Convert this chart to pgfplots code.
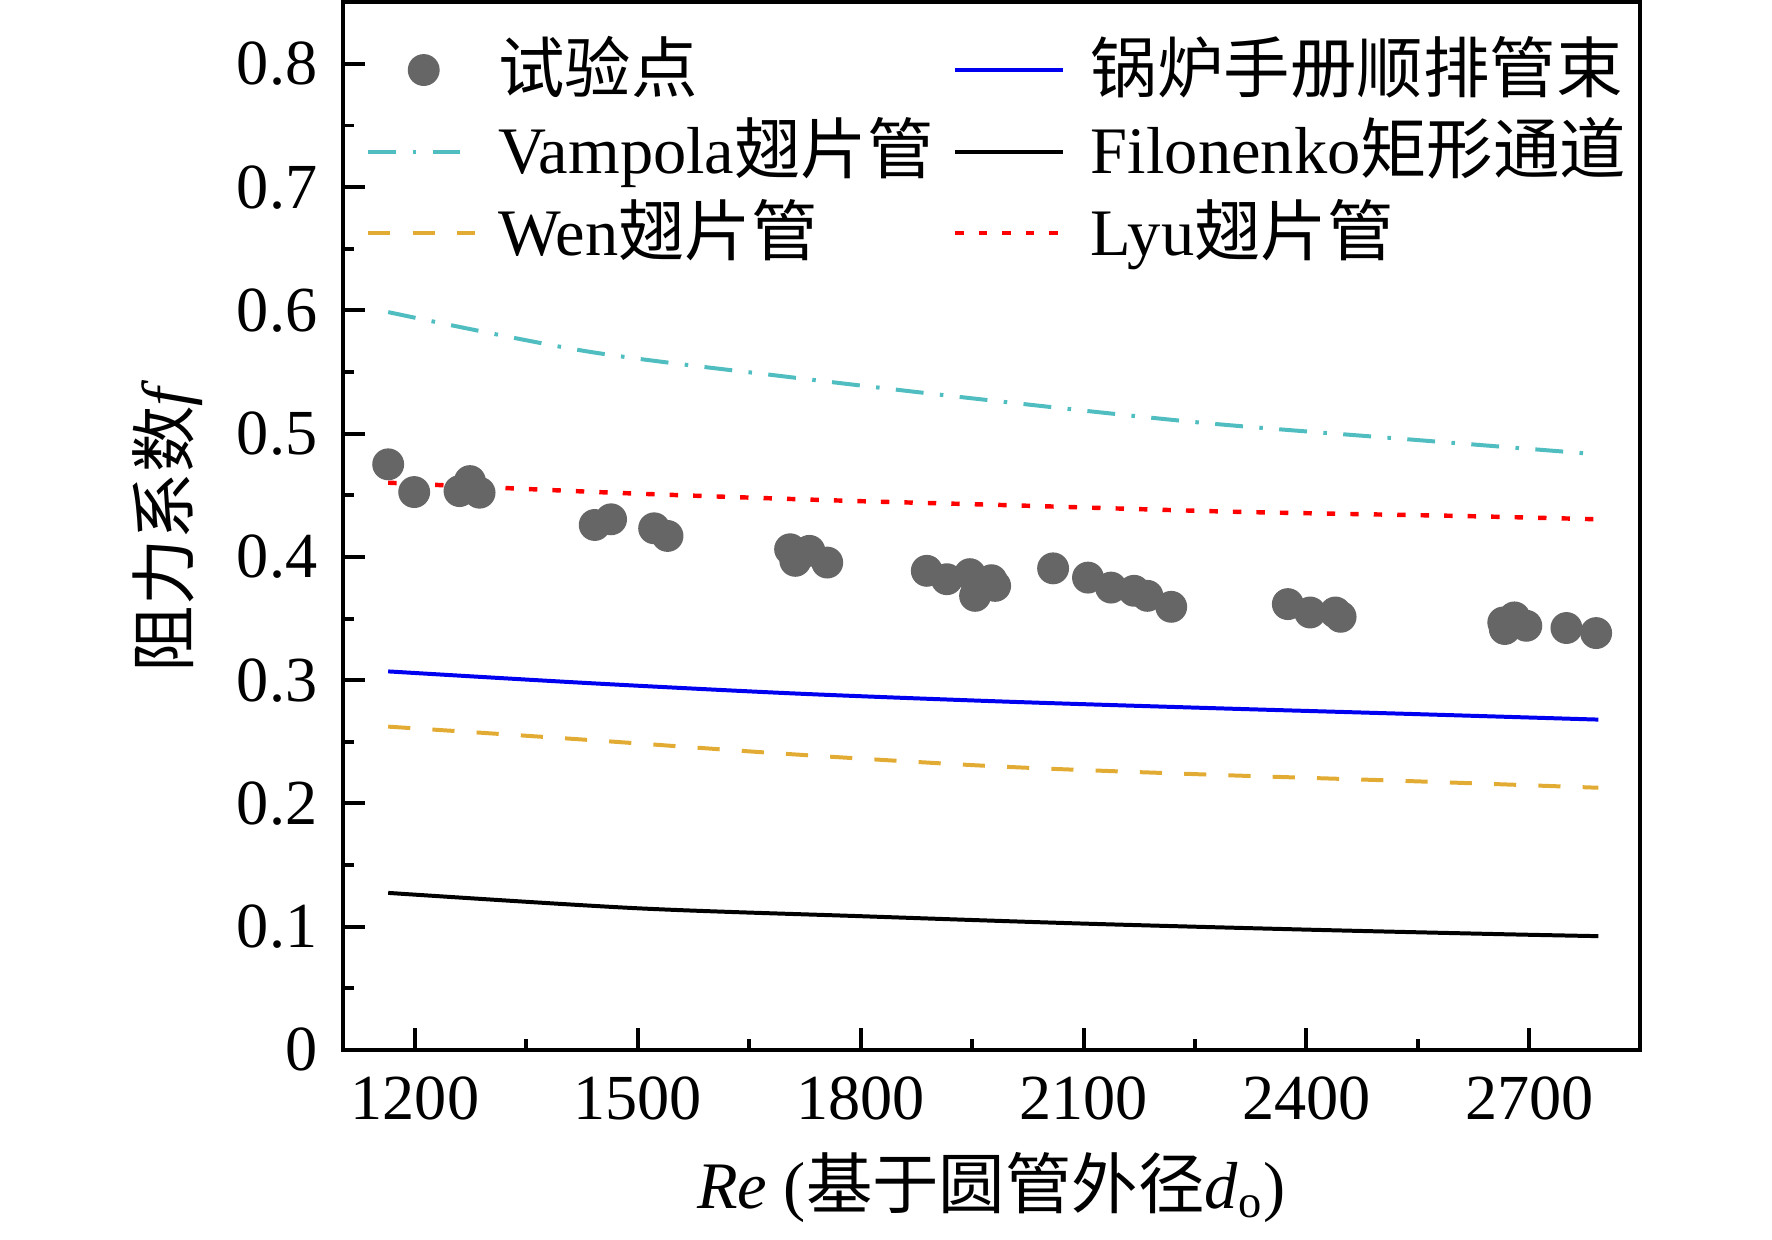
\documentclass[border=0pt]{standalone}
\usepackage{fontspec}
\setmainfont{Liberation Serif}
\newfontfamily\cjk{Noto Sans CJK SC}
\usepackage{pgfplots}
\pgfplotsset{compat=1.18}
\definecolor{ptgray}{RGB}{102,102,102}
\definecolor{vamp}{RGB}{80,190,192}
\definecolor{wen}{RGB}{226,172,52}
\definecolor{lyu}{RGB}{255,0,0}
\definecolor{guo}{RGB}{0,0,240}
\pgfplotsset{
  lineleg/.style={legend image code/.code={\draw[##1] (0pt,0pt) -- (24pt,0pt); \path[draw=none,fill=none] (0pt,0pt) -- (28.8pt,0pt);}},
  linelegb/.style={legend image code/.code={\draw[##1] (0pt,0pt) -- (24.4pt,0pt); \path[draw=none,fill=none] (0pt,0pt) -- (30.1pt,0pt);}},
  markleg/.style={legend image code/.code={\draw[##1,only marks] plot coordinates {(12.5pt,0pt)}; \path[draw=none,fill=none] (0pt,0pt) -- (28.8pt,0pt);}},
}
\begin{document}
\begin{tikzpicture}
\useasboundingbox (-77.4pt,-42.7pt) rectangle (322.6pt,237pt);
\begin{axis}[
  at={(0pt,0pt)}, anchor=south west,
  scale only axis, width=292.8pt, height=236.5pt,
  xmin=1103, xmax=2849, ymin=0, ymax=0.85,
  xtick={1200,1500,1800,2100,2400,2700},
  ytick={0,0.1,0.2,0.3,0.4,0.5,0.6,0.7,0.8},
  minor x tick num=1, minor y tick num=1,
  tick align=inside, xtick pos=bottom, ytick pos=left,
  major tick length=4.9pt, minor tick length=2.5pt,
  every tick/.style={black, line width=0.9pt},
  axis line style={line width=0.9pt},
  /pgf/number format/1000 sep={},
  /pgf/number format/assume math mode=true,
  tick label style={font=\fontsize{14.5}{17}\selectfont},
  xticklabel style={anchor=base, yshift=-15.8pt},
  yticklabel style={anchor=east, inner sep=0pt, xshift=-5.6pt},
  label style={font=\fontsize{15}{18}\selectfont},
  xlabel={\textit{Re} ({\cjk 基于圆管外径}\textit{d}\textsubscript{o})},
  ylabel={{\cjk 阻力系数}\textit{f}},
  xlabel style={at={(axis description cs:0.5,-0.131)}, anchor=center},
  ylabel style={at={(axis description cs:-0.1349,0.5)}, anchor=center},
  legend columns=2,
  legend cell align=left,
  legend style={draw=none, fill=none, inner sep=0pt,
    at={(axis description cs:0,1)}, anchor=north west, xshift=5.1pt, yshift=-7.1pt,
    font=\fontsize{15}{18}\selectfont, row sep=2.4pt, column sep=0pt,
    nodes={anchor=west, inner sep=0.5pt, text height=12.5pt, text depth=2.5pt},
    /tikz/every even column/.append style={column sep=3.9pt}},
]
\addplot[only marks, mark=*, mark size=3.4pt, color=ptgray, markleg]
coordinates {
(1164,0.4751) (1199,0.4526) (1260,0.4534) (1274,0.4615) (1287,0.4521)
(1442,0.4259) (1464,0.4305) (1522,0.4232) (1540,0.4170)
(1705,0.4062) (1712,0.3968) (1731,0.4049) (1755,0.3954)
(1889,0.3887) (1916,0.3819) (1947,0.3860) (1954,0.3684) (1976,0.3811) (1981,0.3765)
(2059,0.3907) (2106,0.3832) (2137,0.3751) (2168,0.3725) (2186,0.3684) (2218,0.3595)
(2375,0.3617) (2405,0.3549) (2439,0.3549) (2446,0.3514)
(2665,0.3468) (2667,0.3415) (2680,0.3509) (2696,0.3441) (2750,0.3423) (2790,0.3382)
};
\addlegendentry{{\cjk 试验点}}
\addplot[guo, line width=0.9pt, smooth, linelegb] coordinates {
(1164,0.3071) (1431,0.2977) (1707,0.2893) (1985,0.2828) (2262,0.2775) (2539,0.2726) (2793,0.2680)
};
\addlegendentry{{\cjk 锅炉手册顺排管束}}
\addplot[vamp, line width=0.9pt, smooth, dash pattern=on 6.3pt off 3.7pt on 0.8pt off 3.7pt, lineleg] coordinates {
(1164,0.5986) (1431,0.5668) (1707,0.5457) (1985,0.5263) (2262,0.5087) (2539,0.4953) (2793,0.4832)
};
\addlegendentry{Vampola{\cjk 翅片管}}
\addplot[black, line width=0.9pt, smooth, linelegb] coordinates {
(1164,0.1274) (1497,0.1150) (1800,0.1085) (2094,0.1026) (2400,0.0976) (2655,0.0940) (2793,0.0923)
};
\addlegendentry{Filonenko{\cjk 矩形通道}}
\addplot[wen, line width=0.9pt, smooth, dash pattern=on 5pt off 5pt, lineleg] coordinates {
(1164,0.2623) (1431,0.2516) (1707,0.2399) (1985,0.2300) (2262,0.2235) (2539,0.2181) (2793,0.2127)
};
\addlegendentry{Wen{\cjk 翅片管}}
\addplot[lyu, line width=1pt, smooth, dash pattern=on 1.9pt off 3.4pt, linelegb] coordinates {
(1164,0.4602) (1466,0.4521) (1762,0.4459) (1990,0.4421) (2298,0.4367) (2607,0.4332) (2793,0.4305)
};
\addlegendentry{Lyu{\cjk 翅片管}}
\end{axis}
\end{tikzpicture}
\end{document}
